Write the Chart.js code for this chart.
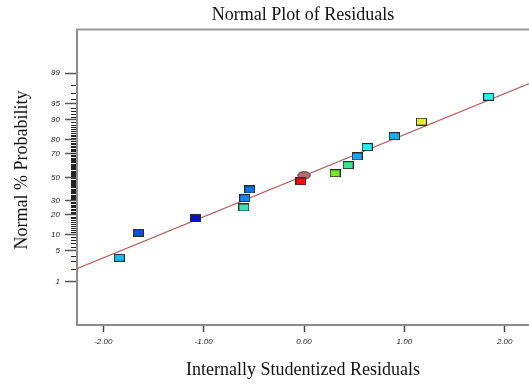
<!DOCTYPE html>
<html>
<head>
<meta charset="utf-8">
<script src="https://cdn.jsdelivr.net/npm/chart.js@4.4.1/dist/chart.umd.min.js"></script>
<style>
  html, body { margin: 0; padding: 0; background: #fff; overflow: hidden; }
</style>
</head>
<body>
<canvas id="normalPlot" width="529" height="385"></canvas>
<script>
// residuals (x) and their normal % probability (y)
const residuals = [-1.84, -1.65, -1.08, -0.60, -0.59, -0.54, -0.03, 0.31, 0.44, 0.53, 0.63, 0.90, 1.17, 1.84];
const probabilities = [3.6, 10.7, 17.9, 25.0, 32.1, 39.3, 46.4, 53.6, 60.7, 67.9, 75.0, 82.1, 89.3, 96.4];
const pointColors = ["#22b4f2", "#0a4fe0", "#0612c4", "#34e4b4", "#1484f0", "#0c74ea", "#ff0808",
  "#74e822", "#34e890", "#1aa4f2", "#28eef0", "#20acf2", "#e4f024", "#30eef0"];

// highlighted marker (brown ellipse)
const markerX = [0.0];
const markerP = [51.8];

// fitted line end points
const fitX = [-2.3, 2.3];
const fitP = [1.9, 98.4];

const xTicks = [-2, -1, 0, 1, 2];
const probLabels = [1, 5, 10, 20, 30, 50, 70, 80, 90, 95, 99];
const minorProbs = [];
for (let p = 1; p <= 99; p++) minorProbs.push(p);

// inverse normal cdf (Acklam)
function probit(p) {
  const a = [-39.69683028665376, 220.9460984245205, -275.9285104469687, 138.3577518672690, -30.66479806614716, 2.506628277459239];
  const b = [-54.47609879822406, 161.5858368580409, -155.6989798598866, 66.80131188771972, -13.28068155288572];
  const c = [-0.007784894002430293, -0.3223964580411365, -2.400758277161838, -2.549732539343734, 4.374664141464968, 2.938163982698783];
  const d = [0.007784695709041462, 0.3224671290700398, 2.445134137142996, 3.754408661907416];
  const lo = 0.02425;
  let q, r;
  if (p < lo) {
    q = Math.sqrt(-2 * Math.log(p));
    return (((((c[0]*q+c[1])*q+c[2])*q+c[3])*q+c[4])*q+c[5]) / ((((d[0]*q+d[1])*q+d[2])*q+d[3])*q+1);
  }
  if (p > 1 - lo) {
    q = Math.sqrt(-2 * Math.log(1 - p));
    return -(((((c[0]*q+c[1])*q+c[2])*q+c[3])*q+c[4])*q+c[5]) / ((((d[0]*q+d[1])*q+d[2])*q+d[3])*q+1);
  }
  q = p - 0.5;
  r = q * q;
  return (((((a[0]*r+a[1])*r+a[2])*r+a[3])*r+a[4])*r+a[5])*q / (((((b[0]*r+b[1])*r+b[2])*r+b[3])*r+b[4])*r+1);
}

function makeBox(color) {
  const c = document.createElement("canvas");
  c.width = 11; c.height = 8;
  const g = c.getContext("2d");
  g.fillStyle = "#2a2a2a";
  g.fillRect(0, 0, 11, 8);
  g.fillStyle = color;
  g.fillRect(1, 1, 9, 6);
  return c;
}

function makeEllipse() {
  const c = document.createElement("canvas");
  c.width = 14; c.height = 9;
  const g = c.getContext("2d");
  g.beginPath();
  g.ellipse(7, 4.5, 6.2, 3.8, 0, 0, Math.PI * 2);
  g.fillStyle = "#b56c6c";
  g.fill();
  g.strokeStyle = "#4a3030";
  g.lineWidth = 1;
  g.stroke();
  return c;
}

const axisFont = { family: "Liberation Sans", size: 8, style: "italic" };
const titleFont = { family: "Liberation Serif", size: 18, weight: "normal" };

const extras = {
  id: "extras",
  afterDraw(chart) {
    const ctx = chart.ctx;
    const area = chart.chartArea;
    const y = chart.scales.y;
    ctx.save();
    // top frame line
    ctx.strokeStyle = "#999";
    ctx.lineWidth = 2;
    ctx.beginPath();
    ctx.moveTo(area.left - 1, area.top);
    ctx.lineTo(area.right, area.top);
    ctx.stroke();
    // minor probability ticks
    ctx.strokeStyle = "#222";
    ctx.lineWidth = 1;
    y.ticks.forEach(t => {
      if (t.big) return;
      const py = Math.round(y.getPixelForValue(t.value)) + 0.5;
      ctx.beginPath();
      ctx.moveTo(area.left - 6, py);
      ctx.lineTo(area.left - 1, py);
      ctx.stroke();
    });
    // y axis title
    ctx.translate(22, 170);
    ctx.rotate(-Math.PI / 2);
    ctx.font = "18px 'Liberation Serif'";
    ctx.fillStyle = "#111";
    ctx.textAlign = "center";
    ctx.textBaseline = "middle";
    ctx.fillText("Normal % Probability", 0, 0);
    ctx.restore();
  }
};

new Chart(document.getElementById("normalPlot").getContext("2d"), {
  type: "scatter",
  data: {
    datasets: [
      {
        data: residuals.map((x, i) => ({ x: x, y: probit(probabilities[i] / 100) })),
        pointStyle: pointColors.map(makeBox),
        pointRadius: 5
      },
      {
        data: markerX.map((x, i) => ({ x: x, y: probit(markerP[i] / 100) })),
        pointStyle: makeEllipse(),
        pointRadius: 6
      },
      {
        data: fitX.map((x, i) => ({ x: x, y: probit(fitP[i] / 100) })),
        showLine: true,
        borderColor: "#b45a5a",
        borderWidth: 1.2,
        pointRadius: 0
      }
    ]
  },
  options: {
    responsive: false,
    animation: false,
    devicePixelRatio: 1,
    layout: { padding: 0, autoPadding: false },
    plugins: {
      legend: { display: false },
      tooltip: { enabled: false },
      title: {
        display: true,
        text: "Normal Plot of Residuals",
        fullSize: false,
        font: titleFont,
        color: "#111",
        padding: { top: 4, bottom: 4 }
      }
    },
    scales: {
      x: {
        type: "linear",
        min: -2.262,
        max: 2.242,
        afterBuildTicks: s => { s.ticks = xTicks.map(v => ({ value: v })); },
        afterFit: s => { s.height = 60; s.paddingLeft = 0; s.paddingRight = 0; },
        ticks: {
          callback: v => v.toFixed(2),
          font: axisFont,
          color: "#222",
          padding: 5,
          maxRotation: 0,
          autoSkip: false
        },
        grid: { drawOnChartArea: false, tickLength: 7, tickColor: "#444", tickWidth: 1.5 },
        border: { color: "#8c8c8c", width: 2 },
        title: {
          display: true,
          text: "Internally Studentized Residuals",
          font: titleFont,
          color: "#111",
          padding: { top: 0, bottom: 4 }
        }
      },
      y: {
        type: "linear",
        min: -3.30,
        max: 3.30,
        afterBuildTicks: s => {
          s.ticks = minorProbs.map(p => ({ value: probit(p / 100), big: probLabels.includes(p), p: p }));
        },
        afterFit: s => { s.width = 77; s.paddingTop = 0; s.paddingBottom = 0; },
        ticks: {
          callback: (v, i, ticks) => (ticks[i].big ? String(ticks[i].p) : ""),
          font: axisFont,
          color: "#222",
          padding: 5,
          autoSkip: false
        },
        grid: {
          drawOnChartArea: false,
          tickLength: 12,
          tickWidth: 1.5,
          tickColor: c => (c.tick && c.tick.big ? "#555" : "rgba(0,0,0,0)")
        },
        border: { color: "#8c8c8c", width: 2 }
      }
    }
  },
  plugins: [extras]
});
</script>
</body>
</html>
